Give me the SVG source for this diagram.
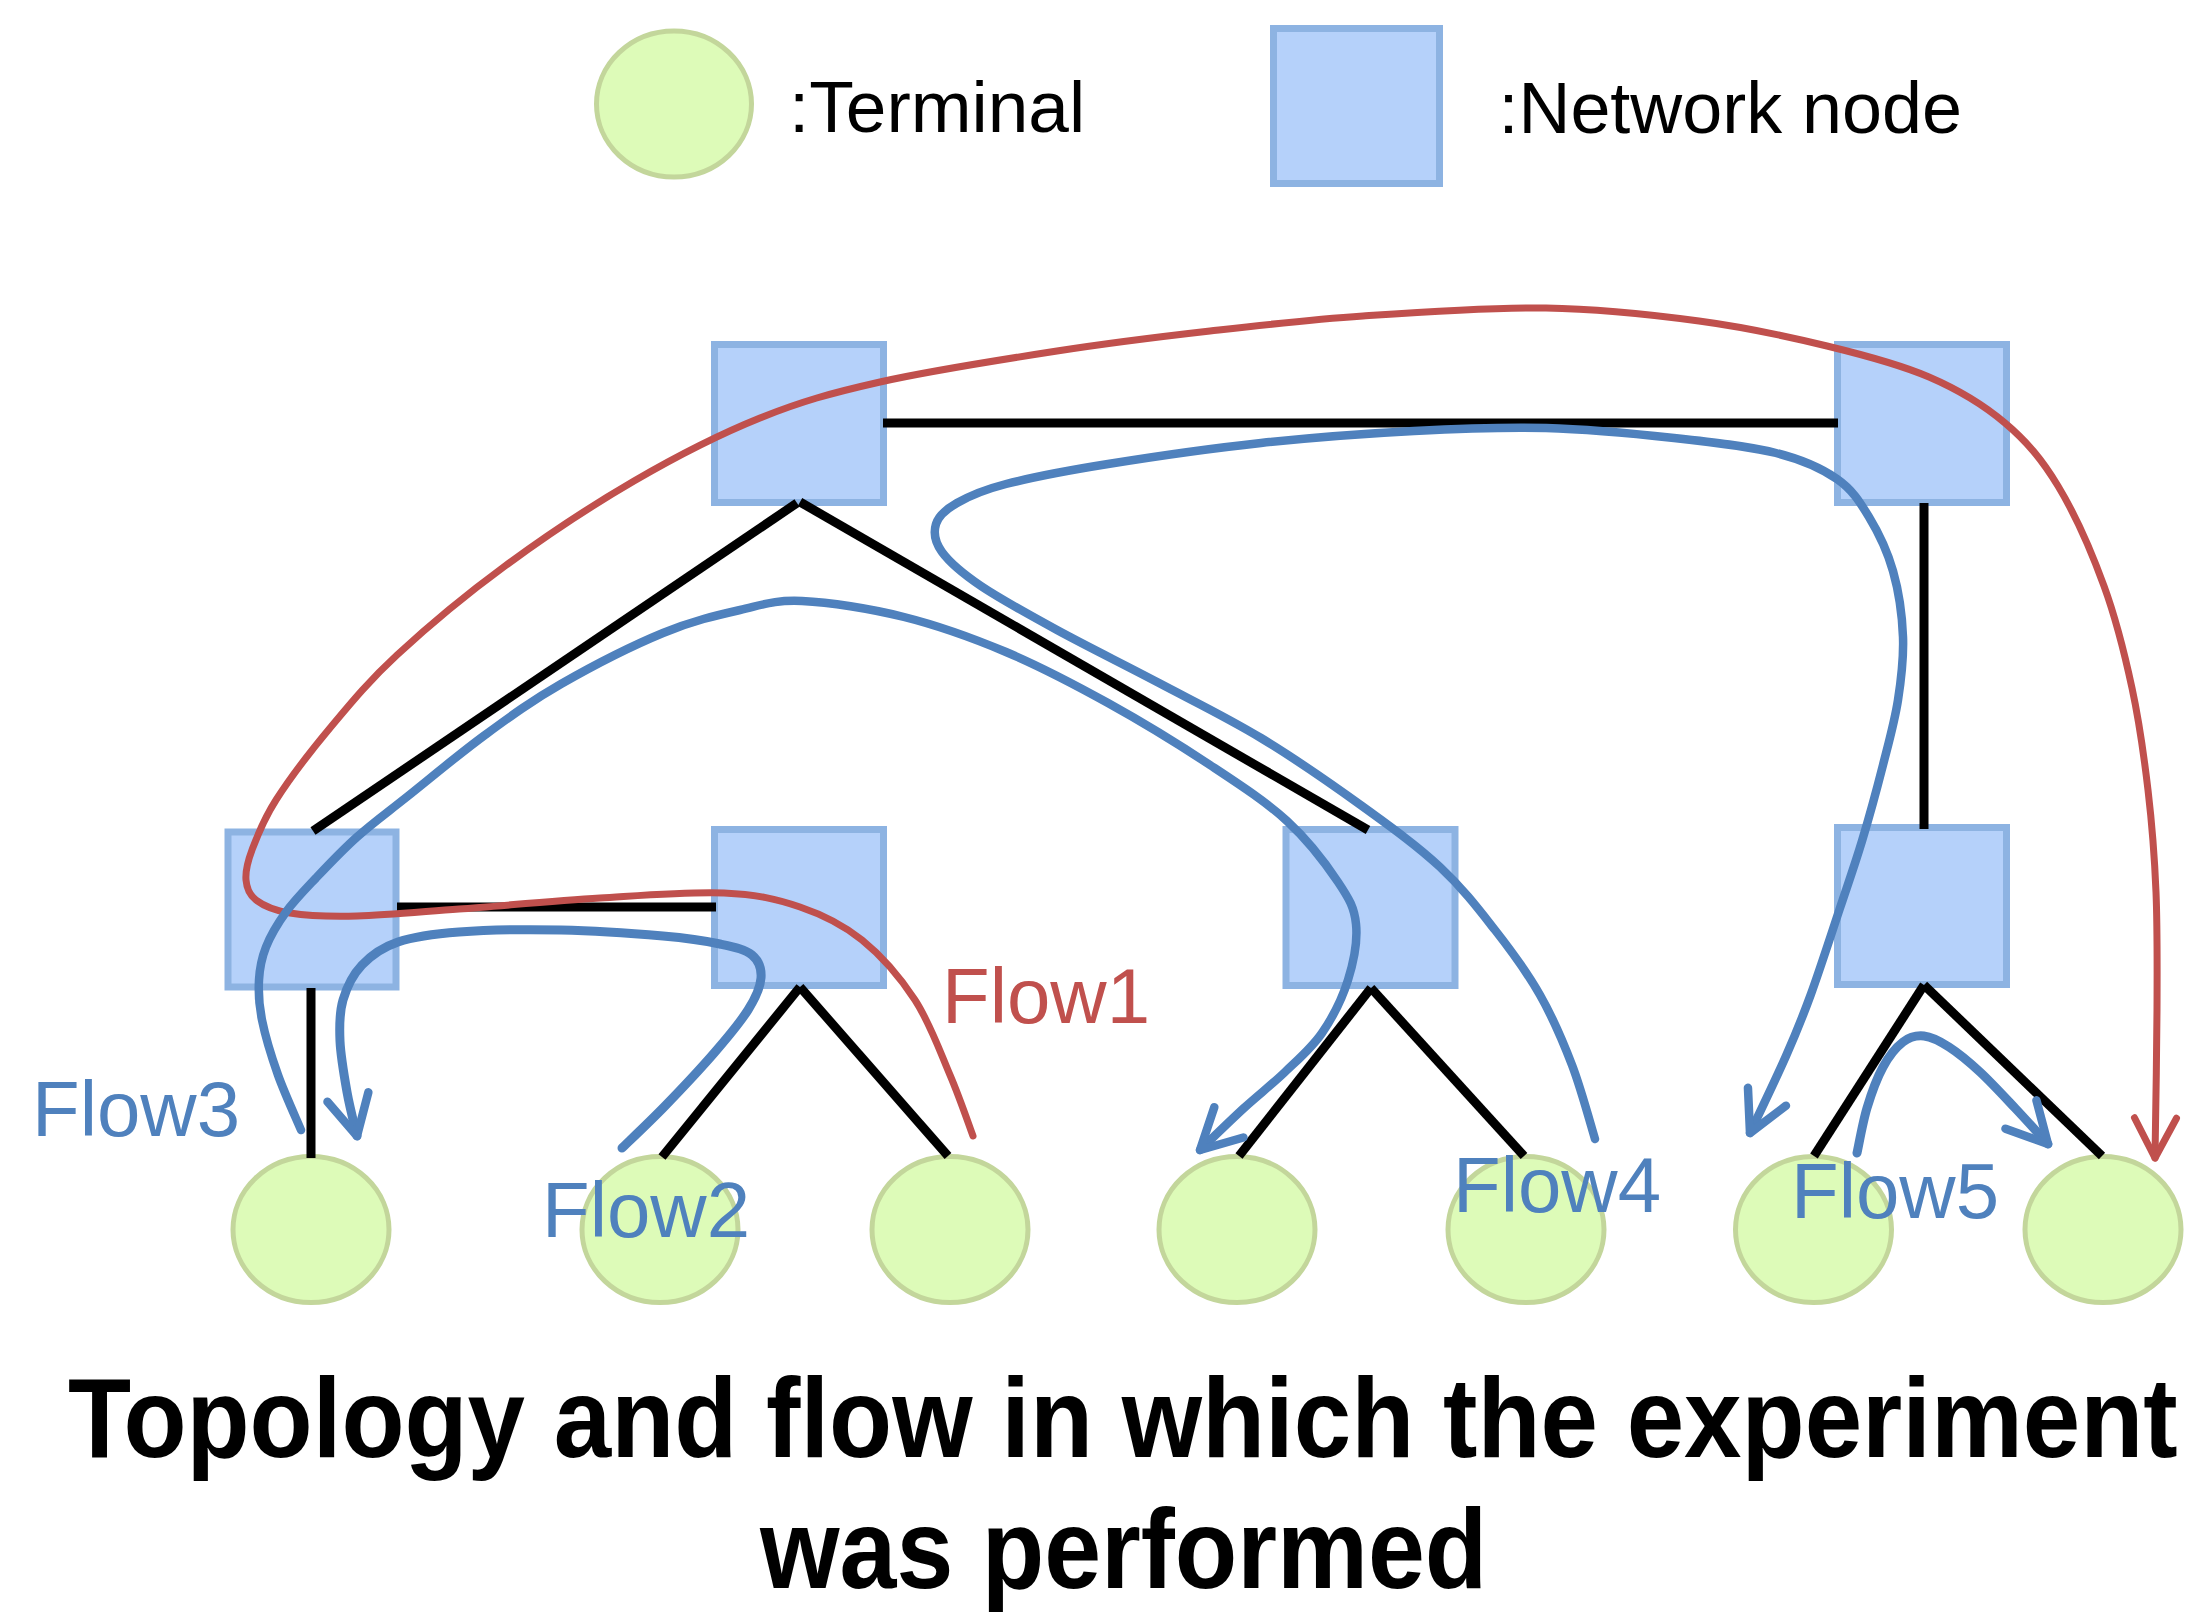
<svg xmlns="http://www.w3.org/2000/svg" width="2193" height="1612" viewBox="0 0 2193 1612">
<defs>
<style>
.net{fill:#b5d1fa;stroke:#8db3e2;stroke-width:7}
.term{fill:#ddfbb8;stroke:#c3d69b;stroke-width:5}
.link{stroke:#000;stroke-width:9;fill:none;stroke-linecap:butt}
.flow{fill:none;stroke-linecap:round;stroke-linejoin:round}
.blue{stroke:#4f81bd;stroke-width:8.5}
.red{stroke:#c0504d;stroke-width:7}
.lbl{font-family:"Liberation Sans",Arial,sans-serif;font-size:78px}
.legend{font-family:"Liberation Sans",Arial,sans-serif;font-size:73px;fill:#000}
.title{font-family:"Liberation Sans",Arial,sans-serif;font-size:113px;font-weight:bold;fill:#000}
</style>
<marker id="arrowBlue" markerUnits="userSpaceOnUse" orient="auto" overflow="visible" viewBox="-60 -60 120 120" markerWidth="120" markerHeight="120" refX="0" refY="0">
<path d="M-40,-21 L0,0 L-40,21" fill="none" stroke="#4f81bd" stroke-width="8.5" stroke-linecap="round" stroke-linejoin="round"/>
</marker>
<marker id="arrowRed" markerUnits="userSpaceOnUse" orient="auto" overflow="visible" viewBox="-60 -60 120 120" markerWidth="120" markerHeight="120" refX="0" refY="0">
<path d="M-40,-21 L0,0 L-40,21" fill="none" stroke="#c0504d" stroke-width="7" stroke-linecap="round" stroke-linejoin="round"/>
</marker>
</defs>
<rect width="2193" height="1612" fill="#fff"/>

<g id="legend">
<g id="legend-terminal">
<ellipse class="term" cx="674" cy="104" rx="77.5" ry="73"/>
<text class="legend" x="789" y="132">:Terminal</text>
</g>
<g id="legend-network-node">
<rect class="net" x="1273.5" y="28.5" width="166" height="155"/>
<text class="legend" transform="translate(1498.5,133) scale(0.985,1)" x="0" y="0">:Network node</text>
</g>
</g>

<g id="nodes">
<g id="N1"><rect class="net" x="714.5" y="344.5" width="169" height="158"/></g>
<g id="N2"><rect class="net" x="1837.5" y="344.5" width="169" height="158"/></g>
<g id="N3"><rect class="net" x="228" y="832" width="168" height="155"/></g>
<g id="N4"><rect class="net" x="714.5" y="829.5" width="169" height="156"/></g>
<g id="N5"><rect class="net" x="1286" y="829.5" width="169" height="156"/></g>
<g id="N6"><rect class="net" x="1837.5" y="827.5" width="169" height="157"/></g>
<g id="T1"><ellipse class="term" cx="311" cy="1229.5" rx="78" ry="73"/></g>
<g id="T2"><ellipse class="term" cx="660" cy="1229.5" rx="78" ry="73"/></g>
<g id="T3"><ellipse class="term" cx="950" cy="1229.5" rx="78" ry="73"/></g>
<g id="T4"><ellipse class="term" cx="1237" cy="1229.5" rx="78" ry="73"/></g>
<g id="T5"><ellipse class="term" cx="1526" cy="1229.5" rx="78" ry="73"/></g>
<g id="T6"><ellipse class="term" cx="1813.5" cy="1229.5" rx="78" ry="73"/></g>
<g id="T7"><ellipse class="term" cx="2103" cy="1229.5" rx="78" ry="73"/></g>
</g>

<g id="connectors">
<g id="links">
<line class="link" x1="883" y1="423" x2="1838" y2="423"/>
<line class="link" x1="797" y1="503" x2="313" y2="831"/>
<line class="link" x1="800" y1="502" x2="1368" y2="830"/>
<line class="link" x1="1924" y1="503" x2="1924" y2="829"/>
<line class="link" x1="397" y1="907" x2="716" y2="907"/>
<line class="link" x1="311" y1="988" x2="311" y2="1158"/>
<line class="link" x1="800" y1="987" x2="662" y2="1157"/>
<line class="link" x1="800" y1="987" x2="948" y2="1156"/>
<line class="link" x1="1371" y1="988" x2="1239" y2="1156"/>
<line class="link" x1="1371" y1="988" x2="1524" y2="1156"/>
<line class="link" x1="1924" y1="985" x2="1814" y2="1156"/>
<line class="link" x1="1924" y1="985" x2="2102" y2="1156"/>
</g>
<g id="flows">
<path id="flow1" class="flow red" marker-end="url(#arrowRed)" d="M973,1136 C969.2,1125.8 959.7,1097.7 950,1075 S929.7,1022.5 915,1000 S881.2,955.5 862,940 S823,914.8 800,907 S757.3,894.5 724,893 S644.2,895.3 600,898 S499.5,906 459,909 S385.2,915.3 357,916 S306.8,915.7 290,913 S263.3,905.5 256,900 S246.7,888.3 246,880 S247,863.3 252,850 S263,820.3 276,800 S309.8,752.2 330,728 S367.8,682 397,655 S465.5,595 505,566 S591.5,505.7 634,481 S719,434.5 760,418 S830.5,393.2 880,382 S1002,359.5 1057,351 S1159,336.8 1210,331 S1307,319.8 1363,316 S1490,307.2 1546,308 S1652.2,314.7 1699,321 S1788.7,336.7 1827,346 S1899.3,364.2 1929,377 S1983.5,404.8 2005,423 S2041.5,458.8 2058,486 S2091.7,552.3 2104,586 S2124.7,654 2132,688 S2144,756 2148,790 S2154.5,855.3 2156,892 S2157.2,965.7 2157,1010 S2155.3,1133.3 2155,1158"/>
<path id="flow2" class="flow blue" style="stroke-width:9" marker-end="url(#arrowBlue)" d="M622,1148 C629.2,1141 649.5,1122 665,1106 S701.2,1068 715,1052 S740.3,1022.3 748,1010 S760.3,987.2 761,978 S758.8,960.7 752,955 S734.8,947.2 720,944 S689.5,938.3 663,936 S595,930.7 561,930 S486.2,930 459,932 S414.2,936.5 398,942 S371.2,955.3 362,965 S346.7,987.3 343,1000 S339.3,1025.7 340,1041 S344.2,1076.2 347,1092 S355.3,1128.7 357,1136"/>
<path id="flow3" class="flow blue" marker-end="url(#arrowBlue)" d="M301,1130 C297.2,1120.8 284.5,1093.3 278,1075 S265.2,1035.8 262,1020 S258.3,992.2 259,980 S261.5,958.3 266,947 S277.7,923.5 286,912 S304.2,890.5 316,878 S341.7,850.7 357,837 S386.7,813 408,796 S459.5,753.7 485,735 S531.3,701 561,684 S633.2,645.3 663,633 S716.8,615.3 740,610 S774.7,599.8 802,601 S870,608.5 904,617 S972,637.7 1006,652 S1074,684.2 1108,703 S1180.2,745.3 1210,765 S1265.7,801.5 1287,821 S1326.5,864.8 1338,882 S1354.3,907.7 1356,924 S1353.7,961.8 1348,980 S1332.5,1017.7 1322,1033 S1298,1059.5 1285,1072 S1258.2,1095 1244,1108 S1207.3,1143 1200,1150"/>
<path id="flow4" class="flow blue" marker-end="url(#arrowBlue)" d="M1595,1139 C1591.2,1126.7 1581.2,1089 1572,1065 S1552.8,1017.5 1540,995 S1511.7,951.3 1495,930 S1462.2,887.7 1440,867 S1391.8,827.5 1362,806 S1294.8,758.5 1261,738 S1193,701 1159,683 S1086.7,646.2 1057,630 S1000.2,599 981,586 S949.5,562.3 942,552 S933.5,532.2 936,524 S945.3,509.7 957,503 S980.8,490.5 1006,484 S1065.5,470.8 1108,464 S1210,448.5 1261,443 S1366.5,433.5 1414,431 S1502.7,426.8 1546,428 S1635.7,433.8 1674,438 S1748.8,446.2 1776,453 S1821.5,468.3 1837,479 S1859.7,501.7 1869,517 S1887.3,551 1893,571 S1902.2,615.5 1903,637 S1901.3,678.7 1898,700 S1889,741.5 1883,765 S1869.2,817.2 1862,841 S1848.5,882.5 1840,908 S1820,969.3 1811,994 S1796.2,1032.8 1786,1056 S1756,1120.2 1750,1133"/>
<path id="flow5" class="flow blue" style="stroke-width:9" marker-end="url(#arrowBlue)" d="M1857,1153 C1858.7,1145.5 1862.7,1122.3 1867,1108 S1877,1078 1883,1067 S1896.2,1047.2 1903,1042 S1916.3,1035.2 1924,1036 S1939.7,1041 1949,1047 S1969,1061.8 1980,1072 S2003.7,1096 2015,1108 S2042.5,1138 2048,1144"/>
</g>
</g>

<g id="flow-labels">
<text class="lbl" x="942" y="1023" fill="#c0504d">Flow1</text>
<text class="lbl" x="542" y="1237" fill="#4f81bd">Flow2</text>
<text class="lbl" x="32" y="1136" fill="#4f81bd">Flow3</text>
<text class="lbl" x="1453" y="1212" fill="#4f81bd">Flow4</text>
<text class="lbl" x="1791" y="1218" fill="#4f81bd">Flow5</text>
</g>

<g id="caption">
<text class="title" transform="translate(68,1457) scale(0.914,1)" x="0" y="0">Topology and flow in which the experiment</text>
<text class="title" transform="translate(760,1588) scale(0.905,1)" x="0" y="0">was performed</text>
</g>
</svg>
